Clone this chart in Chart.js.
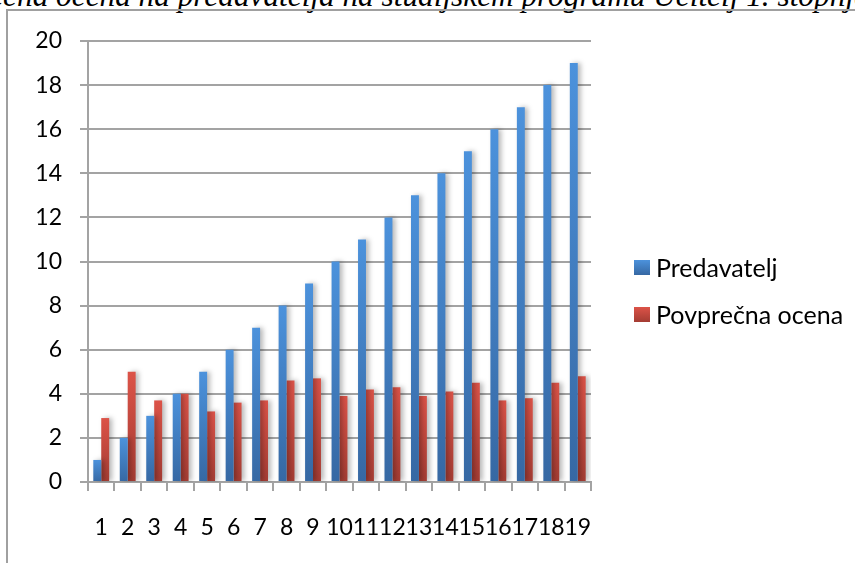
<!DOCTYPE html>
<html>
<head>
<meta charset="utf-8">
<script src="https://cdn.jsdelivr.net/npm/chart.js@4"></script>
<style>
  html, body { margin: 0; padding: 0; background: #fff; }
  body { width: 855px; height: 563px; position: relative; overflow: hidden; }
  #title { position: absolute; white-space: nowrap; font-family: "Liberation Serif", "Times New Roman", serif; font-style: italic; color: #000; }
  .meas { position: absolute; left: -5000px; top: 0; white-space: nowrap; font-family: "Liberation Serif", "Times New Roman", serif; font-style: italic; font-size: 100px; }
  #frame { position: absolute; left: 6px; top: 9px; width: 1000px; height: 1000px; border: 2px solid #a0a0a0; box-sizing: border-box; }
  #wrap { position: absolute; left: 0; top: 0; width: 855px; height: 563px; }
  #legend { position: absolute; left: 634px; top: 0; font-family: Lato, "Open Sans", sans-serif; font-size: 25px; color: #000; }
  .item { position: absolute; left: 0; white-space: nowrap; }
  .sw { position: absolute; left: 0; width: 16px; height: 15px; }
  .lbl { position: absolute; left: 22px; line-height: 25px; }
</style>
</head>
<body>
<div id="title"></div>
<div id="frame"></div>
<div id="wrap"><canvas id="c" width="855" height="563"></canvas></div>
<div id="legend"></div>
<script>
const titleText = "Povprečna ocena na predavatelja na študijskem programu Učitelj 1. stopnje";
const categories = ["1","2","3","4","5","6","7","8","9","10","11","12","13","14","15","16","17","18","19"];
const seriesNames = ["Predavatelj", "Povprečna ocena"];
const predavatelj = [1,2,3,4,5,6,7,8,9,10,11,12,13,14,15,16,17,18,19];
const povprecnaOcena = [2.9,5.0,3.7,4.0,3.2,3.6,3.7,4.6,4.7,3.9,4.2,4.3,3.9,4.1,4.5,3.7,3.8,4.5,4.8];
const yTicks = [0,2,4,6,8,10,12,14,16,18,20];

const palette = [
  { top: "#4c92dc", bottom: "#3668a3", solid: "#4080c4" },
  { top: "#dc5348", bottom: "#a43c33", solid: "#c84a40" }
];

// Title placement (cut off at page edges like the reference)
(function(){
  const t = document.getElementById('title');
  t.textContent = titleText;
  function w(s) {
    const m = document.createElement('span');
    m.className = 'meas';
    m.textContent = s;
    document.body.appendChild(m);
    const r = m.getBoundingClientRect().width;
    m.remove();
    return r;
  }
  const w1 = w("Povprečna ocena na ");
  const w2 = w("Povprečna ocena na predavatelja na študijskem programu Učitelj 1. ");
  const S = 600 / (w2 - w1) * 100;
  t.style.fontSize = S + 'px';
  t.style.lineHeight = S + 'px';
  t.style.left = (170 - w1 * S / 100) + 'px';
  t.style.top = (6.5 - 0.8375 * S) + 'px';
})();

function barFill(idx) {
  return function(c) {
    const p = palette[idx];
    const ch = c.chart;
    if (c.type !== 'data' || !ch.chartArea || !ch.scales.y) return p.solid;
    const ys = ch.scales.y;
    const top = ys.getPixelForValue(c.raw);
    const bot = ys.getPixelForValue(0);
    if (!isFinite(top) || !isFinite(bot) || bot - top < 1) return p.solid;
    const g = ch.ctx.createLinearGradient(0, top, 0, bot);
    g.addColorStop(0, p.top);
    g.addColorStop(1, p.bottom);
    return g;
  };
}

const shadowPlugin = {
  id: 'barShadow',
  beforeDatasetsDraw(chart) {
    const ctx = chart.ctx;
    ctx.save();
    ctx.shadowColor = 'rgba(0,0,0,0.28)';
    ctx.shadowBlur = 5;
    ctx.shadowOffsetX = 3;
    ctx.shadowOffsetY = 0;
  },
  afterDatasetsDraw(chart) {
    chart.ctx.restore();
  }
};

const gridColor = '#a3a3a3';
const tickFont = { family: 'Lato, "Open Sans", sans-serif', size: 23 };

const chart = new Chart(document.getElementById('c'), {
  type: 'bar',
  data: {
    labels: categories,
    datasets: [
      { label: seriesNames[0], data: predavatelj, backgroundColor: barFill(0), borderWidth: 0 },
      { label: seriesNames[1], data: povprecnaOcena, backgroundColor: barFill(1), borderWidth: 0 }
    ]
  },
  options: {
    responsive: false,
    animation: false,
    events: [],
    layout: { padding: { top: 41, right: 264, bottom: 0, left: 0 } },
    datasets: { bar: { categoryPercentage: 0.6, barPercentage: 1.0 } },
    plugins: { legend: { display: false }, title: { display: false }, tooltip: { enabled: false } },
    scales: {
      x: {
        offset: true,
        grid: { offset: true, drawOnChartArea: false, drawTicks: true, tickLength: 9, color: gridColor, lineWidth: 2 },
        border: { display: true, color: gridColor, width: 2 },
        ticks: { color: '#000', font: tickFont, padding: 23, maxRotation: 0, autoSkip: false },
        afterFit(scale) { scale.height = 81; }
      },
      y: {
        min: 0, max: 20,
        afterBuildTicks(scale) { scale.ticks = yTicks.map(v => ({ value: v })); },
        grid: { color: gridColor, lineWidth: 2, tickLength: 8, drawTicks: true },
        border: { display: true, color: gridColor, width: 2 },
        ticks: { color: '#000', font: tickFont, padding: 18 },
        afterFit(scale) { scale.width = 88; }
      }
    }
  },
  plugins: [shadowPlugin]
});

// HTML legend from the datasets
(function(){
  const lg = document.getElementById('legend');
  const baselines = [277, 324];
  chart.data.datasets.forEach((ds, i) => {
    const it = document.createElement('div');
    it.className = 'item';
    it.style.top = (baselines[i] - 17) + 'px';
    const sw = document.createElement('div');
    sw.className = 'sw';
    sw.style.top = '0px';
    sw.style.background = 'linear-gradient(' + palette[i].top + ',' + palette[i].bottom + ')';
    const lb = document.createElement('div');
    lb.className = 'lbl';
    lb.style.top = (17 - 22.2) + 'px';
    lb.textContent = ds.label;
    it.appendChild(sw); it.appendChild(lb);
    lg.appendChild(it);
  });
})();
</script>
</body>
</html>
